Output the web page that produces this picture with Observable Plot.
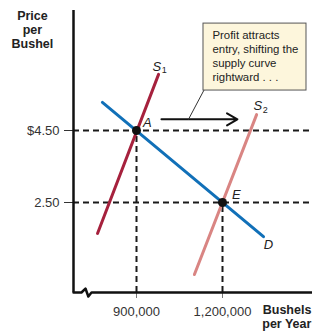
<!DOCTYPE html>
<html><head><meta charset="utf-8">
<script src="https://cdn.jsdelivr.net/npm/d3@7"></script>
<script src="https://cdn.jsdelivr.net/npm/@observablehq/plot@0.6"></script>
<style>body{margin:0;background:#fff}svg{display:block}</style>
</head><body><div id="chart"></div>
<script>
// Data
const demand = [{x: 781000, y: 5.28}, {x: 1343000, y: 1.55}];
const supply1 = [{x: 764000, y: 1.64}, {x: 977000, y: 6.06}];
const supply2 = [{x: 1102000, y: 0.5}, {x: 1319000, y: 4.94}];
const equilibria = [{x: 900000, y: 4.5, label: "A"}, {x: 1200000, y: 2.5, label: "E"}];
const priceTicks = [2.5, 4.5];
const priceTickLabels = ["2.50", "$4.50"];
const quantityTicks = [900000, 1200000];
const curveLabels = [
  {x: 1360000, y: 1.33, label: "D"}
];
const supplyLabels = [
  {x: 971000, y: 6.28, s: "S", sub: "1"},
  {x: 1323000, y: 5.19, s: "S", sub: "2"}
];
const pointLabels = [{x: 938000, y: 4.72, label: "A"}, {x: 1248000, y: 2.7, label: "E"}];
const shiftArrow = [{x1: 987000, x2: 1252000, y: 4.81}];
const calloutBox = [{x1: 1133700, x2: 1493000, y1: 5.61, y2: 7.47}];
const calloutText = "Profit attracts\nentry, shifting the\nsupply curve\nrightward . . .";
const calloutLeader = [{x: 1136600, y: 5.64}, {x: 1081400, y: 4.81}];
const axisBreak = [{x: 680233, y: 0}, {x: 708000, y: 0}, {x: 722000, y: 0.11}, {x: 732000, y: -0.11}, {x: 743000, y: 0}, {x: 1510000, y: 0}];
const yTitle = "Price\nper\nBushel";
const xTitle = "Bushels\nper Year";

const font = "Liberation Sans, Arial, sans-serif";
const plot = Plot.plot({
  width: 312, height: 335,
  marginLeft: 73, marginRight: 2, marginTop: 10, marginBottom: 43,
  style: {fontFamily: font, fontSize: "13px", background: "#fff", overflow: "visible"},
  x: {domain: [680233, 1506968]},
  y: {domain: [0, 282/36]},
  marks: [
    Plot.ruleY(priceTicks, {stroke: "#1a1a1a", strokeWidth: 2, strokeDasharray: "6,4"}),
    Plot.ruleX(equilibria, {x: "x", y1: 0, y2: "y", stroke: "#1a1a1a", strokeWidth: 2, strokeDasharray: "6,4"}),
    Plot.axisY({ticks: priceTicks, tickFormat: d => priceTickLabels[priceTicks.indexOf(d)], tickSize: 9, tickPadding: 5, fontSize: 13, color: "#333", stroke: "#333", label: null}),
    Plot.axisX({ticks: quantityTicks, tickFormat: d3.format(","), tickSize: 6, tickPadding: 8, fontSize: 13, color: "#333", stroke: "#777", label: null}),
    Plot.line(axisBreak, {x: "x", y: "y", stroke: "#111", strokeWidth: 2.5, clip: false}),
    Plot.ruleX([680233], {y1: 0, y2: 282/36, stroke: "#111", strokeWidth: 2.5}),
    Plot.line(supply1, {x: "x", y: "y", stroke: "#a6213d", strokeWidth: 3}),
    Plot.line(supply2, {x: "x", y: "y", stroke: "#d98583", strokeWidth: 3}),
    Plot.line(demand, {x: "x", y: "y", stroke: "#1170b8", strokeWidth: 3}),
    Plot.dot(equilibria, {x: "x", y: "y", r: 4.5, fill: "#111"}),
    Plot.text(pointLabels, {x: "x", y: "y", text: "label", fontSize: 13, fontStyle: "italic", fill: "#222"}),
    Plot.text(curveLabels, {x: "x", y: "y", text: "label", fontSize: 13, fontStyle: "italic", fill: "#222"}),
    Plot.text(supplyLabels, {x: "x", y: "y", text: "s", fontSize: 13, fontStyle: "italic", fill: "#222"}),
    Plot.text(supplyLabels, {x: "x", y: "y", text: "sub", fontSize: 9, fill: "#222", dx: 7.5, dy: 4}),
    Plot.arrow(shiftArrow, {x1: "x1", x2: "x2", y1: "y", y2: "y", stroke: "#111", strokeWidth: 2, headLength: 9}),
    Plot.line(calloutLeader, {x: "x", y: "y", stroke: "#333", strokeWidth: 1}),
    Plot.rect(calloutBox, {x1: "x1", x2: "x2", y1: "y1", y2: "y2", fill: "#fdf6dc", stroke: "#555", strokeWidth: 1, clip: false}),
    Plot.text([calloutText], {x: 1165000, y: 7.33, text: d => d, textAnchor: "start", lineAnchor: "top", fontSize: 11.4, lineHeight: 1.24, fill: "#222"}),
    Plot.text([yTitle], {x: 537000, y: 7.86, text: d => d, lineAnchor: "top", fontSize: 12.5, fontWeight: "bold", lineHeight: 1.13, fill: "#222"}),
    Plot.text([xTitle], {x: 1510000, y: -0.306, text: d => d, textAnchor: "end", lineAnchor: "top", fontSize: 12.5, fontWeight: "bold", lineHeight: 1.13, fill: "#222"})
  ]
});
document.getElementById("chart").append(plot);
</script>
</body></html>
